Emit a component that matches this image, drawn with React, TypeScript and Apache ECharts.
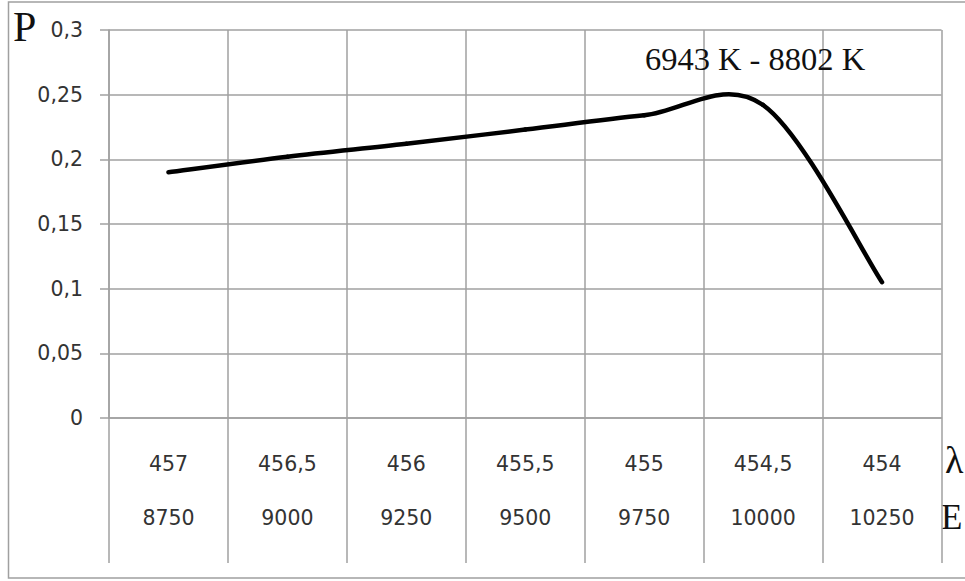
import React, { useEffect, useRef } from "react";
import * as echarts from "echarts";

// λ (wavelength) row and E row of the category axis
const lambdaLabels = ["457", "456,5", "456", "455,5", "455", "454,5", "454"];
const energyLabels = ["8750", "9000", "9250", "9500", "9750", "10000", "10250"];
// P values
const pValues = [0.19, 0.202, 0.212, 0.223, 0.234, 0.242, 0.105];
// y-axis
const yMin = 0;
const yMax = 0.3;
const yStep = 0.05;
const annotationText = "6943 K - 8802 K";

const GRID_COLOR = "#a0a0a0";
const LABEL_COLOR = "#333333";

export default function App() {
  const ref = useRef<HTMLDivElement>(null);

  useEffect(() => {
    if (!ref.current) return;
    const chart = echarts.init(ref.current, null, { renderer: "svg" });
    const n = pValues.length;

    const option: any = {
      animation: false,
      backgroundColor: "#ffffff",
      grid: { left: 109, right: 23.5, top: 30, bottom: 163, containLabel: false },
      xAxis: {
        type: "category",
        data: lambdaLabels,
        boundaryGap: true,
        axisLine: { show: true, lineStyle: { color: GRID_COLOR, width: 1.5 } },
        axisTick: {
          show: true,
          alignWithLabel: false,
          length: 145,
          lineStyle: { color: GRID_COLOR, width: 1.5 },
        },
        splitLine: { show: true, lineStyle: { color: GRID_COLOR, width: 1.5 } },
        axisLabel: {
          interval: 0,
          margin: 18.5,
          fontFamily: "DejaVu Sans",
          fontSize: 20.5,
          lineHeight: 54,
          color: LABEL_COLOR,
          formatter: (val: string, idx: number) => `${val}\n${energyLabels[idx]}`,
        },
      },
      yAxis: {
        type: "value",
        min: yMin,
        max: yMax,
        interval: yStep,
        axisLine: { show: true, lineStyle: { color: GRID_COLOR, width: 1.5 } },
        axisTick: { show: true, length: 9, lineStyle: { color: GRID_COLOR, width: 1.5 } },
        splitLine: { show: true, lineStyle: { color: GRID_COLOR, width: 1.5 } },
        axisLabel: {
          margin: 26,
          fontFamily: "DejaVu Sans",
          fontSize: 20.5,
          color: LABEL_COLOR,
          formatter: (v: number) => String(Math.round(v * 100) / 100).replace(".", ","),
        },
      },
      series: [
        {
          type: "custom",
          coordinateSystem: "cartesian2d",
          data: pValues.map((v, i) => [i, v]),
          encode: { x: 0, y: 1 },
          clip: false,
          z: 10,
          renderItem: (params: any, api: any) => {
            const i = params.dataIndex;
            if (i >= n - 1) return null;
            const pt = (k: number) => {
              const kk = Math.max(0, Math.min(n - 1, k));
              return api.coord([kk, pValues[kk]]);
            };
            const p0 = pt(i - 1);
            const p1 = pt(i);
            const p2 = pt(i + 1);
            const p3 = pt(i + 2);
            return {
              type: "bezierCurve",
              shape: {
                x1: p1[0],
                y1: p1[1],
                cpx1: p1[0] + (p2[0] - p0[0]) / 6,
                cpy1: p1[1] + (p2[1] - p0[1]) / 6,
                cpx2: p2[0] - (p3[0] - p1[0]) / 6,
                cpy2: p2[1] - (p3[1] - p1[1]) / 6,
                x2: p2[0],
                y2: p2[1],
              },
              style: { stroke: "#000000", lineWidth: 4.5, fill: null, lineCap: "round" },
            };
          },
        },
      ],
      graphic: [
        {
          type: "rect",
          shape: { x: 8.5, y: 2, width: 980, height: 576 },
          style: { stroke: GRID_COLOR, lineWidth: 1.5, fill: null },
          silent: true,
          z: -1,
        },
        {
          type: "text",
          x: 13,
          y: 27,
          style: {
            text: "P",
            font: '42px "Liberation Serif"',
            fill: "#111111",
            align: "left",
            verticalAlign: "middle",
          },
        },
        {
          type: "text",
          x: 945,
          y: 460,
          style: {
            text: "λ",
            font: '38px "Liberation Serif"',
            fill: "#111111",
            align: "left",
            verticalAlign: "middle",
          },
        },
        {
          type: "text",
          x: 941,
          y: 517.5,
          style: {
            text: "E",
            font: '35px "Liberation Serif"',
            fill: "#111111",
            align: "left",
            verticalAlign: "middle",
          },
        },
        {
          type: "text",
          x: 755,
          y: 58.5,
          style: {
            text: annotationText,
            font: '32.5px "Liberation Serif"',
            fill: "#111111",
            align: "center",
            verticalAlign: "middle",
          },
          z: 20,
        },
      ],
    };

    chart.setOption(option);
    return () => chart.dispose();
  }, []);

  return (
    <div
      ref={ref}
      style={{ position: "fixed", left: 0, top: 0, width: 965, height: 581, background: "#fff" }}
    />
  );
}
